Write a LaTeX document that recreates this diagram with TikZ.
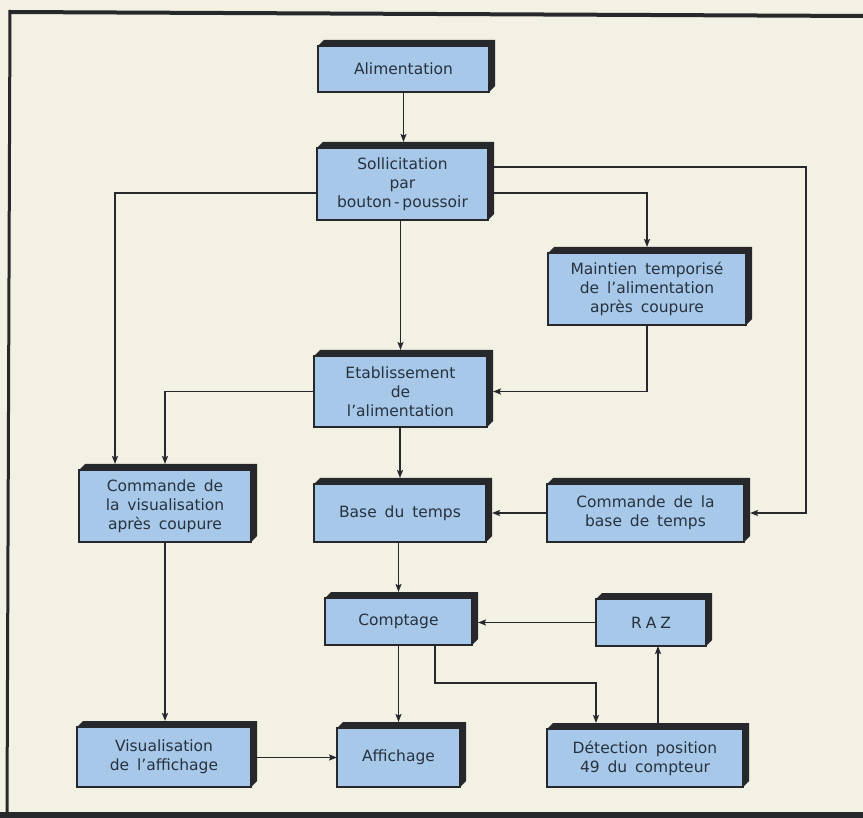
\documentclass[tikz,border=0pt]{standalone}
\usepackage{fontspec}
\setmainfont[WordSpace=1.6]{DejaVu Sans}
\usetikzlibrary{arrows.meta,calc}
\definecolor{paper}{HTML}{F3F1E4}
\definecolor{boxblue}{HTML}{A7C8E8}
\definecolor{edge}{HTML}{26282C}
\definecolor{ink}{HTML}{27323F}
\newcommand\dd{6}
\tikzset{
  blkouter/.style={inner sep=0pt, outer sep=0pt, draw=none},
  face/.style={fill=boxblue, draw=edge, line width=1.5pt},
  txt/.style={align=center, text=ink, inner sep=0pt, font=\fontsize{15.5}{19}\selectfont},
  ln/.style={draw=edge, line width=1.8pt},
  arr/.style={ln, -{Stealth[length=8pt,width=6pt,inset=1.5pt]}},
}
% name, cx, cy, outer w, outer h, text
\newcommand\Blk[6]{%
  \node[blkouter, minimum width=#4pt, minimum height=#5pt] (#1) at (#2,#3) {};
  \filldraw[face] (#1.south west) rectangle ([shift={(-\dd,\dd)}]#1.north east);
  \fill[edge] ([shift={(0,\dd)}]#1.north west) -- ([shift={(\dd,0)}]#1.north west)
    -- (#1.north east) -- ([shift={(0,-\dd)}]#1.south east)
    -- ([shift={(-\dd,0)}]#1.south east) -- ([shift={(-\dd,\dd)}]#1.north east) -- cycle;
  \node[txt] (#1-t) at ([shift={(-\dd/2,\dd/2)}]#1.center) {#6};
}
\begin{document}
\begin{tikzpicture}[x=1pt,y=-1pt]
\fill[paper] (0,0) rectangle (863,818);
\useasboundingbox (0,0) rectangle (863,818);
% frame
\draw[edge, line width=4pt] (9,12) -- (863,16);
\draw[edge, line width=3pt] (10,10) -- (7,814);
\fill[edge] (0,812) rectangle (863,818);

% blocks
\Blk{alim}{406.5}{66}{177}{52}{Alimentation}
\Blk{soll}{405.5}{181}{177}{78}{Sollicitation\\par\\bouton\,-\,poussoir}
\Blk{maint}{650}{286}{204}{78}{Maintien temporisé\\de l’alimentation\\après coupure}
\Blk{etab}{403.5}{388.5}{179}{77}{Etablissement\\de\\l’alimentation}
\Blk{cvis}{168}{503}{178}{78}{Commande de\\la visualisation\\après coupure}
\Blk{base}{403}{510}{178}{64}{Base du temps}
\Blk{cbase}{648.5}{510}{203}{64}{Commande de la\\base de temps}
\Blk{compt}{401.5}{618.5}{153}{53}{Comptage}
\Blk{raz}{654}{619.5}{116}{53}{R\hspace{4pt}A\hspace{4pt}Z}
\Blk{vis}{167}{754}{180}{66}{Visualisation\\de l’affichage}
\Blk{aff}{401.5}{754.5}{129}{65}{Affichage}
\Blk{det}{648}{755}{202}{64}{Détection position\\49 du compteur}

% connectors
\draw[arr] (alim.south -| alim-t) -- (soll.north -| alim-t);
\draw[arr] ([shift={(0,-14)}]soll.east) -- ++(312,0) |- (cbase.east |- cbase-t);
\draw[arr] ([shift={(0,12)}]soll.east) -| (maint.north -| maint-t);
\draw[arr] ([shift={(0,12)}]soll.west) -| ($(cvis.north -| cvis-t)+(-50,0)$);
\draw[arr] (soll.south -| etab-t) -- (etab.north -| etab-t);
\draw[arr] (maint.south -| maint-t) |- (etab.east |- etab-t);
\draw[arr] (etab.west |- etab-t) -| (cvis.north -| cvis-t);
\draw[arr] (etab.south -| base-t) -- (base.north -| base-t);
\draw[arr] (cbase.west |- cbase-t) -- (base.east |- cbase-t);
\draw[arr] (base.south -| compt-t) -- (compt.north -| compt-t);
\draw[arr] (raz.west |- raz-t) -- (compt.east |- raz-t);
\draw[arr] ($(compt.south)+(33.5,0)$) -- ++(0,38) -| ($(det.north -| det-t)+(-49,0)$);
\draw[arr] ($(det.north -| det-t)+(13,0)$) -- ($(raz.south -| det-t)+(13,0)$);
\draw[arr] (compt.south -| compt-t) -- (aff.north -| compt-t);
\draw[arr] (cvis.south -| cvis-t) -- (vis.north -| cvis-t);
\draw[arr] (vis.east |- aff-t) -- (aff.west |- aff-t);
\end{tikzpicture}
\end{document}
